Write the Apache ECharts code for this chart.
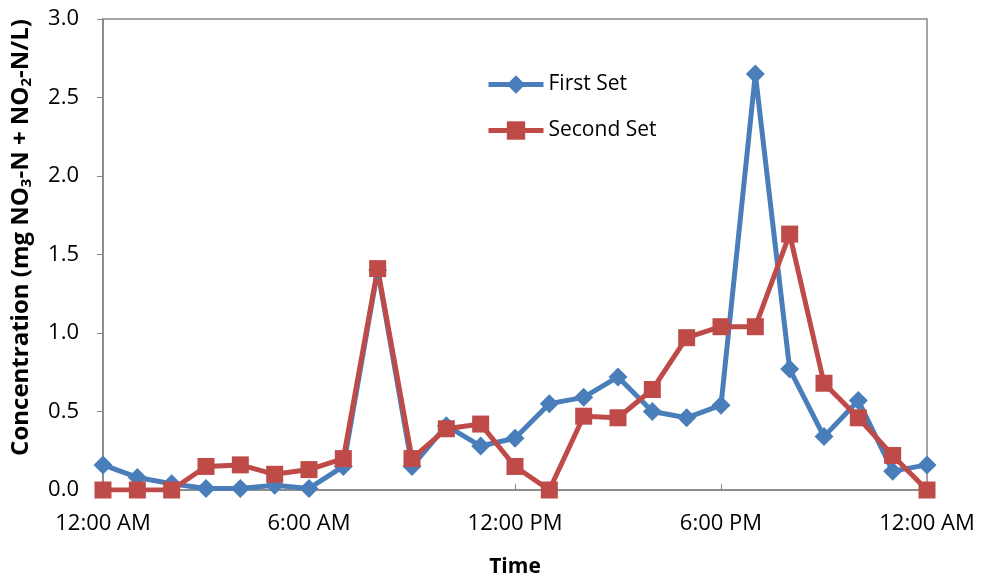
<!DOCTYPE html>
<html>
<head>
<meta charset="utf-8">
<script src="https://cdn.jsdelivr.net/npm/echarts@6/dist/echarts.min.js"></script>
<style>html,body{margin:0;padding:0;background:#fff;}#c{width:981px;height:581px;}</style>
</head>
<body>
<div id="c"></div>
<script>
var hours = [0,1,2,3,4,5,6,7,8,9,10,11,12,13,14,15,16,17,18,19,20,21,22,23,24];
var firstSet = [0.16,0.08,0.04,0.01,0.01,0.03,0.01,0.15,1.40,0.15,0.41,0.28,0.33,0.55,0.59,0.72,0.50,0.46,0.54,2.65,0.77,0.34,0.57,0.12,0.16];
var secondSet = [0.00,0.00,0.00,0.15,0.16,0.10,0.13,0.20,1.41,0.20,0.39,0.42,0.15,0.00,0.47,0.46,0.64,0.97,1.04,1.04,1.63,0.68,0.46,0.22,0.00];
var xTickLabels = {0:'12:00 AM',6:'6:00 AM',12:'12:00 PM',18:'6:00 PM',24:'12:00 AM'};
var seriesNames = ['First Set','Second Set'];

function pairs(vals){ return hours.map(function(h,i){ return [h, vals[i]]; }); }

var font = 'Open Sans';
var chart = echarts.init(document.getElementById('c'));
chart.setOption({
  animation: false,
  grid: {left: 103, right: 54, top: 19, bottom: 91, show: true, borderColor: '#868686', borderWidth: 1.5,
         containLabel: false, outerBoundsMode: 'none'},
  legend: {
    orient: 'vertical', left: 481, top: 69, itemGap: 25, itemWidth: 55, itemHeight: 23,
    textStyle: {fontFamily: font, fontSize: 21, color: '#000'},
    lineStyle: {width: 5},
    data: seriesNames
  },
  xAxis: {
    type: 'value', min: 0, max: 24, interval: 6,
    name: 'Time', nameLocation: 'middle', nameGap: 67,
    nameTextStyle: {fontFamily: font, fontSize: 21, fontWeight: 'bold', color: '#000'},
    axisLine: {lineStyle: {color: '#868686', width: 1.5}},
    axisTick: {inside: true, length: 6, lineStyle: {color: '#868686'}},
    splitLine: {show: false},
    axisLabel: {fontFamily: font, fontSize: 22, color: '#000', margin: 23,
      formatter: function(v){ return xTickLabels[v] || ''; }}
  },
  yAxis: {
    type: 'value', min: 0, max: 3, interval: 0.5,
    name: '{b|Concentration (mg NO}{s|3}{b|-N + NO}{s|2}{b|-N/L)}',
    nameLocation: 'middle', nameGap: 69,
    nameTextStyle: {
      padding: [0, 0, 0, 34],
      rich: {
        b: {fontFamily: font, fontSize: 24, fontWeight: 'bold', color: '#000'},
        s: {fontFamily: font, fontSize: 15, fontWeight: 'bold', color: '#000', padding: [10,0,0,0]}
      }
    },
    axisLine: {show: true, lineStyle: {color: '#868686', width: 1.5}},
    axisTick: {show: true, length: 6, lineStyle: {color: '#868686'}},
    splitLine: {show: false},
    axisLabel: {fontFamily: font, fontSize: 22, color: '#000', margin: 24,
      formatter: function(v){ return v.toFixed(1); }}
  },
  series: [
    {name: seriesNames[0], type: 'line', data: pairs(firstSet), symbol: 'diamond', symbolSize: 19,
     lineStyle: {color: '#4A7EBB', width: 5}, itemStyle: {color: '#4A7EBB'}},
    {name: seriesNames[1], type: 'line', data: pairs(secondSet), symbol: 'rect', symbolSize: 17,
     lineStyle: {color: '#BE4B48', width: 5}, itemStyle: {color: '#BE4B48'}}
  ]
});
</script>
</body>
</html>
